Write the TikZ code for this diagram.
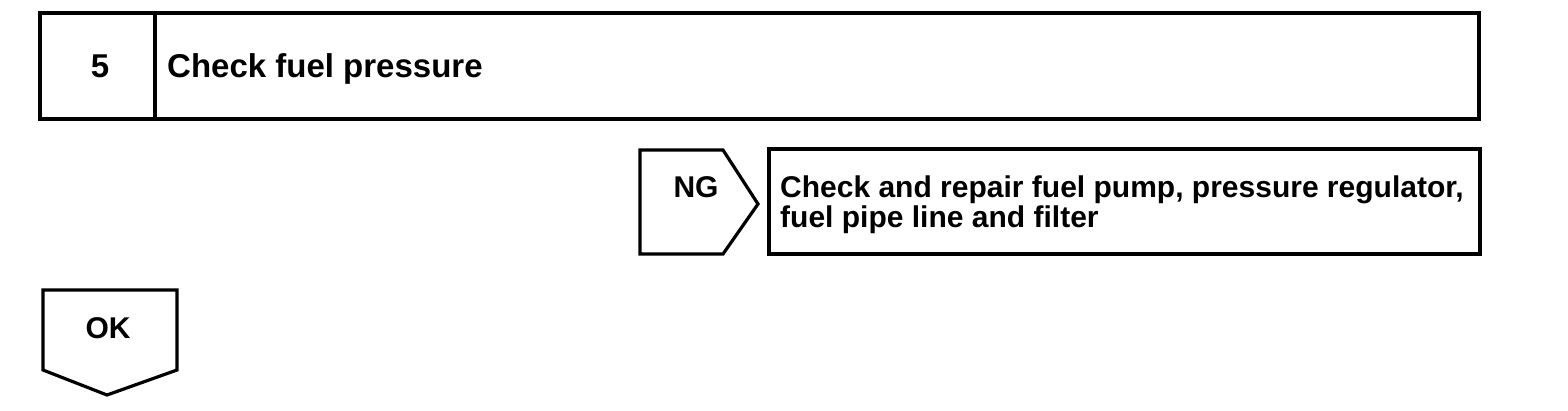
\documentclass[tikz,border=0pt]{standalone}
\usepackage{fontspec}
\setmainfont{Liberation Sans}
\begin{document}
\begin{tikzpicture}[x=1pt,y=-1pt,
  box/.style={draw=black,line width=3.2pt,line join=miter},
  lbl/.style={inner sep=0pt,font=\fontsize{30}{30}\selectfont\bfseries},
  ttl/.style={inner sep=0pt,font=\fontsize{33}{33}\selectfont\bfseries}]
\useasboundingbox[fill=white] (0,0) rectangle (1568,410);
% top step box
\draw[box] (40,13) rectangle (1479,119);
\draw[box] (155,13) -- (155,119);
\node[ttl,anchor=base] (num) at (100,77) {5};
\node[ttl,anchor=base west] (title) at (167,77) {Check fuel pressure};
% NG arrow
\draw[box] (640,150) -- (723,150) -- (758,204) -- (723,254) -- (640,254) -- cycle;
\node[lbl,anchor=base] (ng) at (696,197) {NG};
% NG result box
\draw[box] (769,149) rectangle (1480,254);
\node[lbl,anchor=base west] (res1) at (780,197) {Check and repair fuel pump, pressure regulator,};
\node[lbl,anchor=base west] (res2) at (780,227) {fuel pipe line and filter};
% OK arrow
\draw[box] (43,290) -- (177,290) -- (177,370) -- (107,395) -- (43,370) -- cycle;
\node[lbl,anchor=base] (ok) at (108,338) {OK};
\end{tikzpicture}
\end{document}
